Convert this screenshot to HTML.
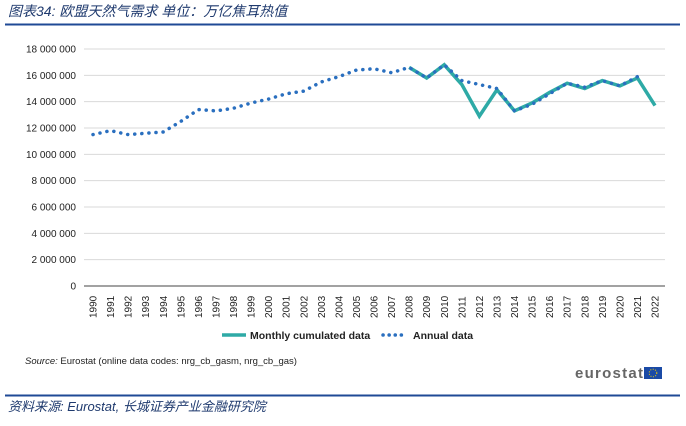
<!DOCTYPE html>
<html><head><meta charset="utf-8"><style>
body{margin:0;background:#fff;font-family:"Liberation Sans","Noto Sans CJK SC",sans-serif}
svg text{font-family:"Liberation Sans","Noto Sans CJK SC",sans-serif}
</style></head><body>
<svg width="686" height="421" viewBox="0 0 686 421">
<text x="8" y="16" font-size="14" font-style="italic" fill="#1f3a6e">图表34: 欧盟天然气需求 单位：万亿焦耳热值</text>
<line x1="5" y1="24.5" x2="680" y2="24.5" stroke="#1f4a96" stroke-width="2"/>
<g id="grid"></g><g id="yt"></g><g id="xt"></g><g id="series"></g>
<g>
<line x1="222" y1="335" x2="246" y2="335" stroke="#2eaaa6" stroke-width="3.5"/>
<text x="250" y="339" font-size="10.5" font-weight="bold" fill="#222">Monthly cumulated data</text>
<line x1="383" y1="335" x2="407" y2="335" stroke="#2a6fbf" stroke-width="3.5" stroke-linecap="round" stroke-dasharray="0.1 6"/>
<text x="413" y="339" font-size="10.5" font-weight="bold" fill="#222">Annual data</text>
</g>
<text x="25" y="364" font-size="9.5" fill="#222"><tspan font-style="italic">Source:</tspan> Eurostat (online data codes: nrg_cb_gasm, nrg_cb_gas)</text>
<text x="575" y="378" font-size="15" font-weight="bold" fill="#666" textLength="68">eurostat</text>
<rect x="644" y="367" width="18" height="12" fill="#1a4aa6"/>
<circle cx="653" cy="373" r="3.8" fill="none" stroke="#f5d000" stroke-width="1" stroke-dasharray="1 1.5"/>
<line x1="5" y1="395.5" x2="680" y2="395.5" stroke="#1f4a96" stroke-width="2"/>
<text x="8" y="411" font-size="13" font-style="italic" fill="#1f3a6e">资料来源: Eurostat, 长城证券产业金融研究院</text>
</svg>
<script>
const years=[];for(let y=1990;y<=2022;y++)years.push(y);
const annualYears=years.slice(0,32);
const annualValues=[11.5,11.8,11.5,11.6,11.7,12.5,13.4,13.3,13.5,13.9,14.2,14.6,14.8,15.5,15.9,16.4,16.5,16.2,16.6,15.8,16.8,15.6,15.3,15.0,13.3,13.8,14.6,15.4,15.1,15.6,15.2,15.9];
const monthlyYears=[2008,2009,2010,2011,2012,2013,2014,2015,2016,2017,2018,2019,2020,2021,2022];
const monthlyValues=[16.6,15.8,16.8,15.3,12.9,14.9,13.3,13.9,14.7,15.4,15.0,15.6,15.2,15.8,13.7];
const yTicks=[0,2,4,6,8,10,12,14,16,18];
const yTickLabels=["0","2 000 000","4 000 000","6 000 000","8 000 000","10 000 000","12 000 000","14 000 000","16 000 000","18 000 000"];
const NS="http://www.w3.org/2000/svg";
const X=y=>93+(y-1990)*(562/32);
const Y=v=>286-v*(237/18);
function mk(t,a,p){const e=document.createElementNS(NS,t);for(const k in a)e.setAttribute(k,a[k]);p.appendChild(e);return e;}
const grid=document.getElementById('grid'),yt=document.getElementById('yt'),xt=document.getElementById('xt'),s=document.getElementById('series');
yTicks.forEach((v,i)=>{
 const l=mk('line',{x1:84,x2:665,y1:Y(v),y2:Y(v),stroke:v===0?'#444':'#d9d9d9','stroke-width':1},grid);
 
 
 const t=mk('text',{x:76,y:Y(v)+3.5,'font-size':10,'text-anchor':'end',fill:'#222'},yt);t.textContent=yTickLabels[i];
 
 
});
years.forEach(y=>{
 const t=mk('text',{transform:`translate(${X(y)+3.5},318) rotate(-90)`,'font-size':10,fill:'#222'},xt);t.textContent=y;
 
 
});
const m=mk('polyline',{points:monthlyYears.map((y,i)=>X(y)+','+Y(monthlyValues[i])).join(' '),fill:'none',stroke:'#2eaaa6','stroke-width':3.5,'stroke-linejoin':'miter'},s);


const a=mk('polyline',{points:annualYears.map((y,i)=>X(y)+','+Y(annualValues[i])).join(' '),fill:'none',stroke:'#2a6fbf','stroke-width':3.5,'stroke-linecap':'round','stroke-dasharray':'0.1 7'},s);


</script>
</body></html>
